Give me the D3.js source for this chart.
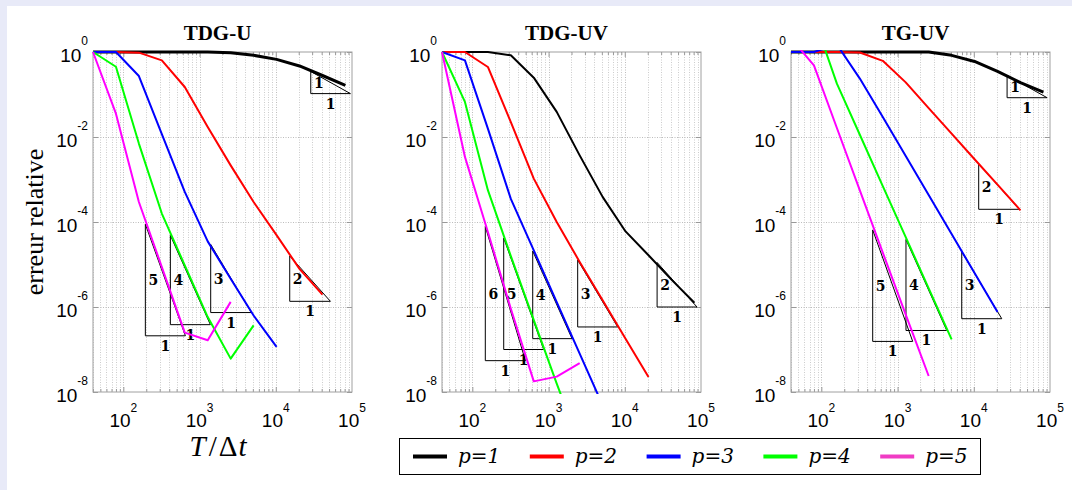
<!DOCTYPE html>
<html><head><meta charset="utf-8">
<script src="https://cdn.jsdelivr.net/npm/d3@7"></script>
<style>
body{margin:0;background:#e8eaf8;}
svg{display:block}
</style>
</head><body>
<svg id="c" width="1072" height="490"></svg>
<script>
// ---------- data ----------
const steps = [40, 80, 160, 320, 640, 1280, 2560, 5120, 10240, 20480, 40960, 81920]; // T/Δt
const panelTitles = ["TDG-U", "TDG-UV", "TG-UV"];
const seriesLabels = ["p=1", "p=2", "p=3", "p=4", "p=5"];
const xTickExps = [2, 3, 4, 5];
const yTickExps = [0, -2, -4, -6, -8];

// TDG-U
const tdgU_p1 = [1, 1, 1, 1, 1, 1, 0.965, 0.835, 0.67, 0.47, 0.28, 0.165];
const tdgU_p2 = [1, 1, 0.965, 0.637, 0.15, 1.72e-2, 2.15e-3, 2.95e-4, 4.9e-5, 7.9e-6, 1.95e-6];
const tdgU_p3 = [1, 1, 0.272, 1.17e-2, 5.1e-4, 3.5e-5, 4.6e-6, 6.3e-7, 1.15e-7];
const tdgU_p4 = [1, 0.45, 7.0e-3, 1.58e-4, 9.5e-6, 5.8e-7, 6.1e-8, 3.7e-7];
const tdgU_p5 = [1, 3.54e-2, 2.95e-4, 8.7e-6, 2.5e-7, 1.65e-7, 1.32e-6];
// TDG-UV
const tdgUV_p1 = [1, 1, 1, 0.835, 0.249, 3.9e-2, 3.7e-3, 3.9e-4, 6.0e-5, 1.65e-5, 4.4e-6, 1.26e-6];
const tdgUV_p2 = [1, 1, 0.444, 2.25e-2, 1.05e-3, 1e-4, 1.15e-5, 1.44e-6, 1.8e-7, 2.25e-8];
const tdgUV_p3 = [1, 0.637, 1.58e-2, 3.5e-4, 2.15e-5, 1.3e-6, 8e-8, 4.9e-9];
const tdgUV_p4 = [1, 6.7e-2, 5.6e-4, 1.58e-5, 4.9e-7, 1.58e-8, 5.6e-10];
const tdgUV_p5 = [1, 3.4e-3, 5.8e-5, 9.1e-7, 1.78e-8, 2.3e-8, 4.8e-8];
// TG-UV
const tgUV_p1 = [1, 1, 1, 1, 1, 1, 1, 0.835, 0.60, 0.35, 0.19, 0.114];
const tgUV_p2 = [1, 1, 1, 0.97, 0.62, 0.193, 4.8e-2, 1.2e-2, 3.0e-3, 7.6e-4, 1.88e-4];
const tgUV_p3 = [1, 1, 1.5, 0.237, 2.95e-2, 3.56e-3, 4.3e-4, 5.2e-5, 6.3e-6, 7.6e-7];
const tgUV_p4 = [30, 6.5, 0.18, 1.13e-2, 7.0e-4, 4.4e-5, 2.75e-6, 1.73e-7];
const tgUV_p5 = [2.1, 0.485, 1.63e-2, 5.56e-4, 1.9e-5, 6.6e-7, 2.38e-8];

// slope triangles: [order, x start, x end, error at bottom leg]
const triTdgU = [[1, 28770, 95300, 0.105], [2, 15240, 52100, 1.36e-6], [3, 1400, 4790, 7.4e-7], [4, 414, 1387, 3.84e-7], [5, 194.5, 652, 2.1e-7]];
const triTdgUV = [[2, 26550, 88700, 1e-6], [3, 2410, 8070, 3.39e-7], [4, 620, 2030, 1.8e-7], [5, 258, 863, 1e-7], [6, 148, 497, 5.46e-8]];
const triTgUV = [[1, 27350, 91600, 8.4e-2], [2, 11600, 39600, 1.99e-4], [3, 6950, 23300, 5.3e-7], [4, 1290, 4420, 2.8e-7], [5, 472, 1580, 1.55e-7]];

const panelSeries = [
  [tdgU_p1, tdgU_p2, tdgU_p3, tdgU_p4, tdgU_p5],
  [tdgUV_p1, tdgUV_p2, tdgUV_p3, tdgUV_p4, tdgUV_p5],
  [tgUV_p1, tgUV_p2, tgUV_p3, tgUV_p4, tgUV_p5]
];
const panelTris = [triTdgU, triTdgUV, triTgUV];

// ---------- style / layout ----------
const colors = ["#000000", "#ff0000", "#0000ff", "#00ff00", "#ff00ff"];
const legendColors = ["#000000", "#ff0000", "#0000ff", "#00ff00", "#f03cc4"];
const blackWidth = [3, 2, 3];
const panelLeft = [93, 442, 791];
const plotTop = 52, W = 259, H = 340;

const svg = d3.select("#c");
svg.append("rect").attr("x", 7).attr("y", 6).attr("width", 1072).attr("height", 490).attr("fill", "#fff");

const x = d3.scaleLog().domain([40, 1e5]).range([0, W]);
const y = d3.scaleLog().domain([1e-8, 1]).range([H, 0]);
const majorX = xTickExps.slice(0, 3).map(e => Math.pow(10, e));
const allX = x.ticks().filter(v => v >= 40 && v <= 1e5);
const minorX = allX.filter(v => !majorX.includes(v) && v < 1e5);
const yTicks = yTickExps.map(e => Math.pow(10, e));

panelSeries.forEach((series, pi) => {
  const g = svg.append("g").attr("transform", `translate(${panelLeft[pi]},${plotTop})`);
  const clipId = "clip" + pi;
  svg.append("clipPath").attr("id", clipId).append("rect")
    .attr("x", panelLeft[pi] - 2).attr("y", plotTop - 2).attr("width", W + 4).attr("height", H + 4);

  // grid
  g.append("g").selectAll("line").data(minorX).join("line")
    .attr("x1", d => Math.round(x(d)) + 0.5).attr("x2", d => Math.round(x(d)) + 0.5).attr("y1", 0).attr("y2", H)
    .attr("stroke", "#cccccc").attr("stroke-width", 1).attr("stroke-dasharray", "1,1.5");
  g.append("g").selectAll("line").data(majorX).join("line")
    .attr("x1", d => Math.round(x(d)) + 0.5).attr("x2", d => Math.round(x(d)) + 0.5).attr("y1", 0).attr("y2", H)
    .attr("stroke", "#bdbdbd").attr("stroke-width", 1).attr("stroke-dasharray", "1,1.5");
  g.append("g").selectAll("line").data(yTicks.slice(1, 4)).join("line")
    .attr("x1", 0).attr("x2", W).attr("y1", d => Math.round(y(d)) + 0.5).attr("y2", d => Math.round(y(d)) + 0.5)
    .attr("stroke", "#bdbdbd").attr("stroke-width", 1).attr("stroke-dasharray", "1,1.5");

  // inward ticks via d3 axes
  const tickStyle = sel => { sel.select(".domain").remove(); sel.selectAll("line").attr("stroke", "#999"); };
  g.append("g").attr("transform", `translate(0,${H})`).call(d3.axisBottom(x).tickValues(majorX).tickSize(-5).tickFormat("")).call(tickStyle);
  g.append("g").attr("transform", `translate(0,${H})`).call(d3.axisBottom(x).tickValues(minorX).tickSize(-3).tickFormat("")).call(tickStyle);
  g.append("g").call(d3.axisTop(x).tickValues(majorX).tickSize(-5).tickFormat("")).call(tickStyle);
  g.append("g").call(d3.axisTop(x).tickValues(minorX).tickSize(-3).tickFormat("")).call(tickStyle);
  g.append("g").call(d3.axisLeft(y).tickValues(yTicks).tickSize(-5).tickFormat("")).call(tickStyle);
  g.append("g").attr("transform", `translate(${W},0)`).call(d3.axisRight(y).tickValues(yTicks).tickSize(-5).tickFormat("")).call(tickStyle);

  // box
  g.append("rect").attr("x", 0).attr("y", 0).attr("width", W).attr("height", H)
    .attr("fill", "none").attr("stroke", "#a0a0a0").attr("stroke-width", 1);

  // tick labels
  xTickExps.forEach(e => {
    const t = g.append("text").attr("x", x(Math.pow(10, e))).attr("y", H + 35)
      .attr("text-anchor", "middle").attr("font-family", "Liberation Sans, Arial, sans-serif").attr("font-size", 19);
    t.append("tspan").text("10");
    t.append("tspan").attr("dy", -15).attr("font-size", 12).text(e);
  });
  yTickExps.forEach(e => {
    const t = g.append("text").attr("x", -5).attr("y", y(Math.pow(10, e)) + 10)
      .attr("text-anchor", "end").attr("font-family", "Liberation Sans, Arial, sans-serif").attr("font-size", 19);
    t.append("tspan").text("10");
    t.append("tspan").attr("dy", -17).attr("font-size", 12).text(e === 0 ? "0" : "-" + Math.abs(e));
  });

  // title
  g.append("text").attr("x", W / 2 - 5).attr("y", -12).attr("text-anchor", "middle")
    .attr("font-family", "Liberation Serif, Times New Roman, serif").attr("font-weight", "bold").attr("font-size", 21)
    .text(panelTitles[pi]);

  // curves
  const lg = svg.append("g").attr("clip-path", `url(#${clipId})`)
    .append("g").attr("transform", `translate(${panelLeft[pi]},${plotTop})`);
  const line = d3.line().x((d, i) => x(steps[i])).y(d => y(d));
  series.forEach((vals, si) => {
    lg.append("path").attr("d", line(vals)).attr("fill", "none")
      .attr("stroke", colors[si]).attr("stroke-width", si === 0 ? blackWidth[pi] : 2)
      .attr("stroke-linejoin", "round");
  });

  // slope triangles
  panelTris[pi].forEach(([ord, x0, x1, yb]) => {
    const yt = yb * Math.pow(x1 / x0, ord);
    g.append("path")
      .attr("d", `M${x(x0)},${y(yt)}L${x(x0)},${y(yb)}L${x(x1)},${y(yb)}Z`)
      .attr("fill", "none").attr("stroke", "#000").attr("stroke-width", 1);
    g.append("text").attr("x", x(x0) + 8).attr("y", (y(yt) + y(yb)) / 2 + 5)
      .attr("text-anchor", "middle").attr("font-family", "DejaVu Serif, serif").attr("font-weight", "bold").attr("font-size", 14)
      .text(ord);
    g.append("text").attr("x", (x(x0) + x(x1)) / 2).attr("y", y(yb) + 15)
      .attr("text-anchor", "middle").attr("font-family", "DejaVu Serif, serif").attr("font-weight", "bold").attr("font-size", 14)
      .text("1");
  });
});

// axis labels
svg.append("text").attr("transform", "translate(43,222) rotate(-90)").attr("text-anchor", "middle")
  .attr("font-family", "Liberation Serif, Times New Roman, serif").attr("font-size", 26).text("erreur relative");
const xl = svg.append("text").attr("x", 218).attr("y", 456).attr("text-anchor", "middle")
  .attr("font-family", "Liberation Serif, Times New Roman, serif").attr("font-size", 29);
xl.append("tspan").attr("font-style", "italic").text("T");
xl.append("tspan").attr("dx", 3).text("/");
xl.append("tspan").attr("dx", 2).text("Δ");
xl.append("tspan").attr("font-style", "italic").attr("dx", 1).text("t");

// legend
const lgd = svg.append("g");
lgd.append("rect").attr("x", 399.5).attr("y", 438.5).attr("width", 581).attr("height", 36)
  .attr("fill", "#fff").attr("stroke", "#000").attr("stroke-width", 1);
seriesLabels.forEach((lab, i) => {
  const x0 = 413 + i * 116.8;
  lgd.append("line").attr("x1", x0).attr("x2", x0 + 34).attr("y1", 456.5).attr("y2", 456.5)
    .attr("stroke", legendColors[i]).attr("stroke-width", 4);
  lgd.append("text").attr("x", x0 + 45).attr("y", 463).attr("font-family", "DejaVu Serif, serif")
    .attr("font-style", "italic").attr("font-size", 20).text(lab);
});
</script>
</body></html>
